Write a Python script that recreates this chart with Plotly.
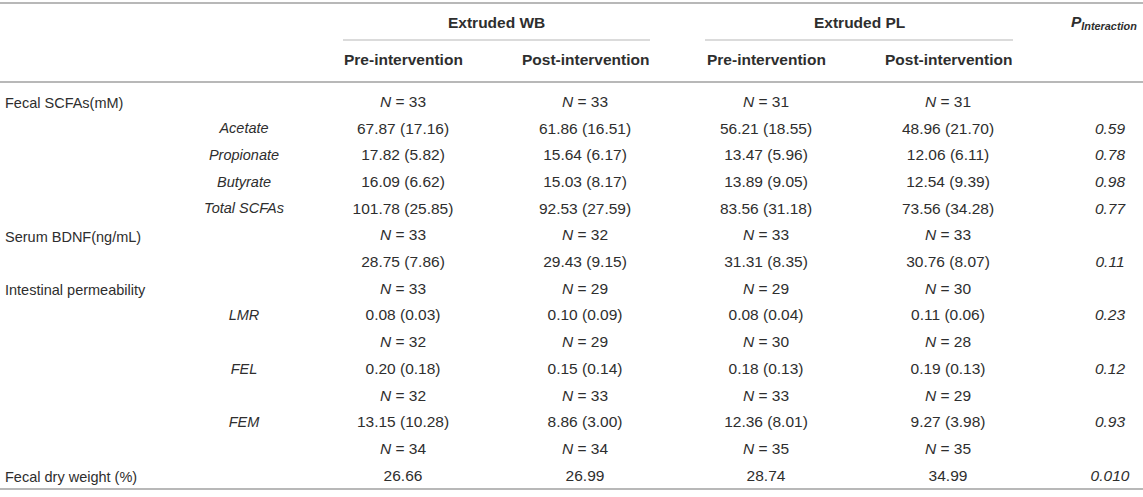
import plotly.graph_objects as go

# 表格数据
row_labels = ["Fecal SCFAs(mM)", "", "", "", "", "Serum BDNF(ng/mL)", "",
              "Intestinal permeability", "", "", "", "", "", "", "Fecal dry weight (%)"]
sub_labels = ["", "Acetate", "Propionate", "Butyrate", "Total SCFAs", "", "",
              "", "LMR", "", "FEL", "", "FEM", "", ""]

wb_pre = ["N=33", "67.87 (17.16)", "17.82 (5.82)", "16.09 (6.62)", "101.78 (25.85)",
          "N=33", "28.75 (7.86)", "N=33", "0.08 (0.03)", "N=32", "0.20 (0.18)",
          "N=32", "13.15 (10.28)", "N=34", "26.66"]
wb_post = ["N=33", "61.86 (16.51)", "15.64 (6.17)", "15.03 (8.17)", "92.53 (27.59)",
           "N=32", "29.43 (9.15)", "N=29", "0.10 (0.09)", "N=29", "0.15 (0.14)",
           "N=33", "8.86 (3.00)", "N=34", "26.99"]
pl_pre = ["N=31", "56.21 (18.55)", "13.47 (5.96)", "13.89 (9.05)", "83.56 (31.18)",
          "N=33", "31.31 (8.35)", "N=29", "0.08 (0.04)", "N=30", "0.18 (0.13)",
          "N=33", "12.36 (8.01)", "N=35", "28.74"]
pl_post = ["N=31", "48.96 (21.70)", "12.06 (6.11)", "12.54 (9.39)", "73.56 (34.28)",
           "N=33", "30.76 (8.07)", "N=30", "0.11 (0.06)", "N=28", "0.19 (0.13)",
           "N=29", "9.27 (3.98)", "N=35", "34.99"]
p_interaction = ["", "0.59", "0.78", "0.98", "0.77", "", "0.11", "", "0.23", "",
                 "0.12", "", "0.93", "", "0.010"]

groups = ["Extruded WB", "Extruded PL"]
phases = ["Pre-intervention", "Post-intervention"]

# 布局参数
W, H = 1143, 497
FONT = "Liberation Sans, Arial, sans-serif"
TXT = "#2e2e2e"
RULE = "#b8b8b8"
col_x = [403, 585, 766, 948]
p_x = 1110
sub_x = 244
row_y0, row_dy = 103, 26.7


def fmt(v):
    # N=xx -> 斜体N
    if v.startswith("N="):
        return "<i>N</i> = " + v[2:]
    return v


def text_col(fig, x, texts, font):
    # 只画非空的单元格
    pts = [(y, t) for y, t in zip(ys, texts) if t]
    fig.add_trace(go.Scatter(x=[x] * len(pts), y=[p[0] for p in pts],
                             text=[p[1] for p in pts], mode="text",
                             textposition="middle center", textfont=font,
                             hoverinfo="skip"))


ys = [row_y0 + i * row_dy for i in range(len(row_labels))]
lab_font = dict(family=FONT, size=14.5, color=TXT)
val_font = dict(family=FONT, size=15.5, color=TXT)

fig = go.Figure()

# 左侧标签 (左对齐)
for y, lab in zip(ys, row_labels):
    if lab:
        fig.add_annotation(x=3, y=y, text=lab, showarrow=False, font=lab_font,
                           xanchor="left", yanchor="middle")

text_col(fig, sub_x, ["<i>%s</i>" % s if s else "" for s in sub_labels], lab_font)
for cx, col in zip(col_x, [wb_pre, wb_post, pl_pre, pl_post]):
    text_col(fig, cx, [fmt(v) for v in col], val_font)
text_col(fig, p_x, ["<i>%s</i>" % v if v else "" for v in p_interaction], val_font)

# 表头
hdr_font = dict(family=FONT, size=15.5, color=TXT)
spans = [(343, 650), (705, 1013)]
for g, (x0, x1) in zip(groups, spans):
    fig.add_annotation(x=(x0 + x1) / 2, y=22, text="<b>%s</b>" % g, showarrow=False,
                       font=hdr_font, xanchor="center", yanchor="middle")
    fig.add_shape(type="line", x0=x0, x1=x1, y0=40, y1=40,
                  line=dict(color=RULE, width=1.2))
for i, cx in enumerate(col_x):
    fig.add_annotation(x=cx, y=59, text="<b>%s</b>" % phases[i % 2], showarrow=False,
                       font=hdr_font, xanchor="center", yanchor="middle")
fig.add_annotation(x=1139, y=22, text="<b><i>P</i></b><sub><b><i>Interaction</i></b></sub>",
                   showarrow=False, font=hdr_font, xanchor="right", yanchor="middle")

# 横线
for yy in [3, 82, 489]:
    fig.add_shape(type="line", x0=0, x1=W, y0=yy, y1=yy,
                  line=dict(color=RULE, width=2))

fig.update_layout(
    width=W, height=H,
    margin=dict(l=0, r=0, t=0, b=0),
    paper_bgcolor="white", plot_bgcolor="white",
    showlegend=False,
    xaxis=dict(range=[0, W], visible=False, fixedrange=True),
    yaxis=dict(range=[H, 0], visible=False, fixedrange=True),
)

fig.write_html("out.html", config={"displayModeBar": False},
               post_script="document.body.style.margin='0';")
